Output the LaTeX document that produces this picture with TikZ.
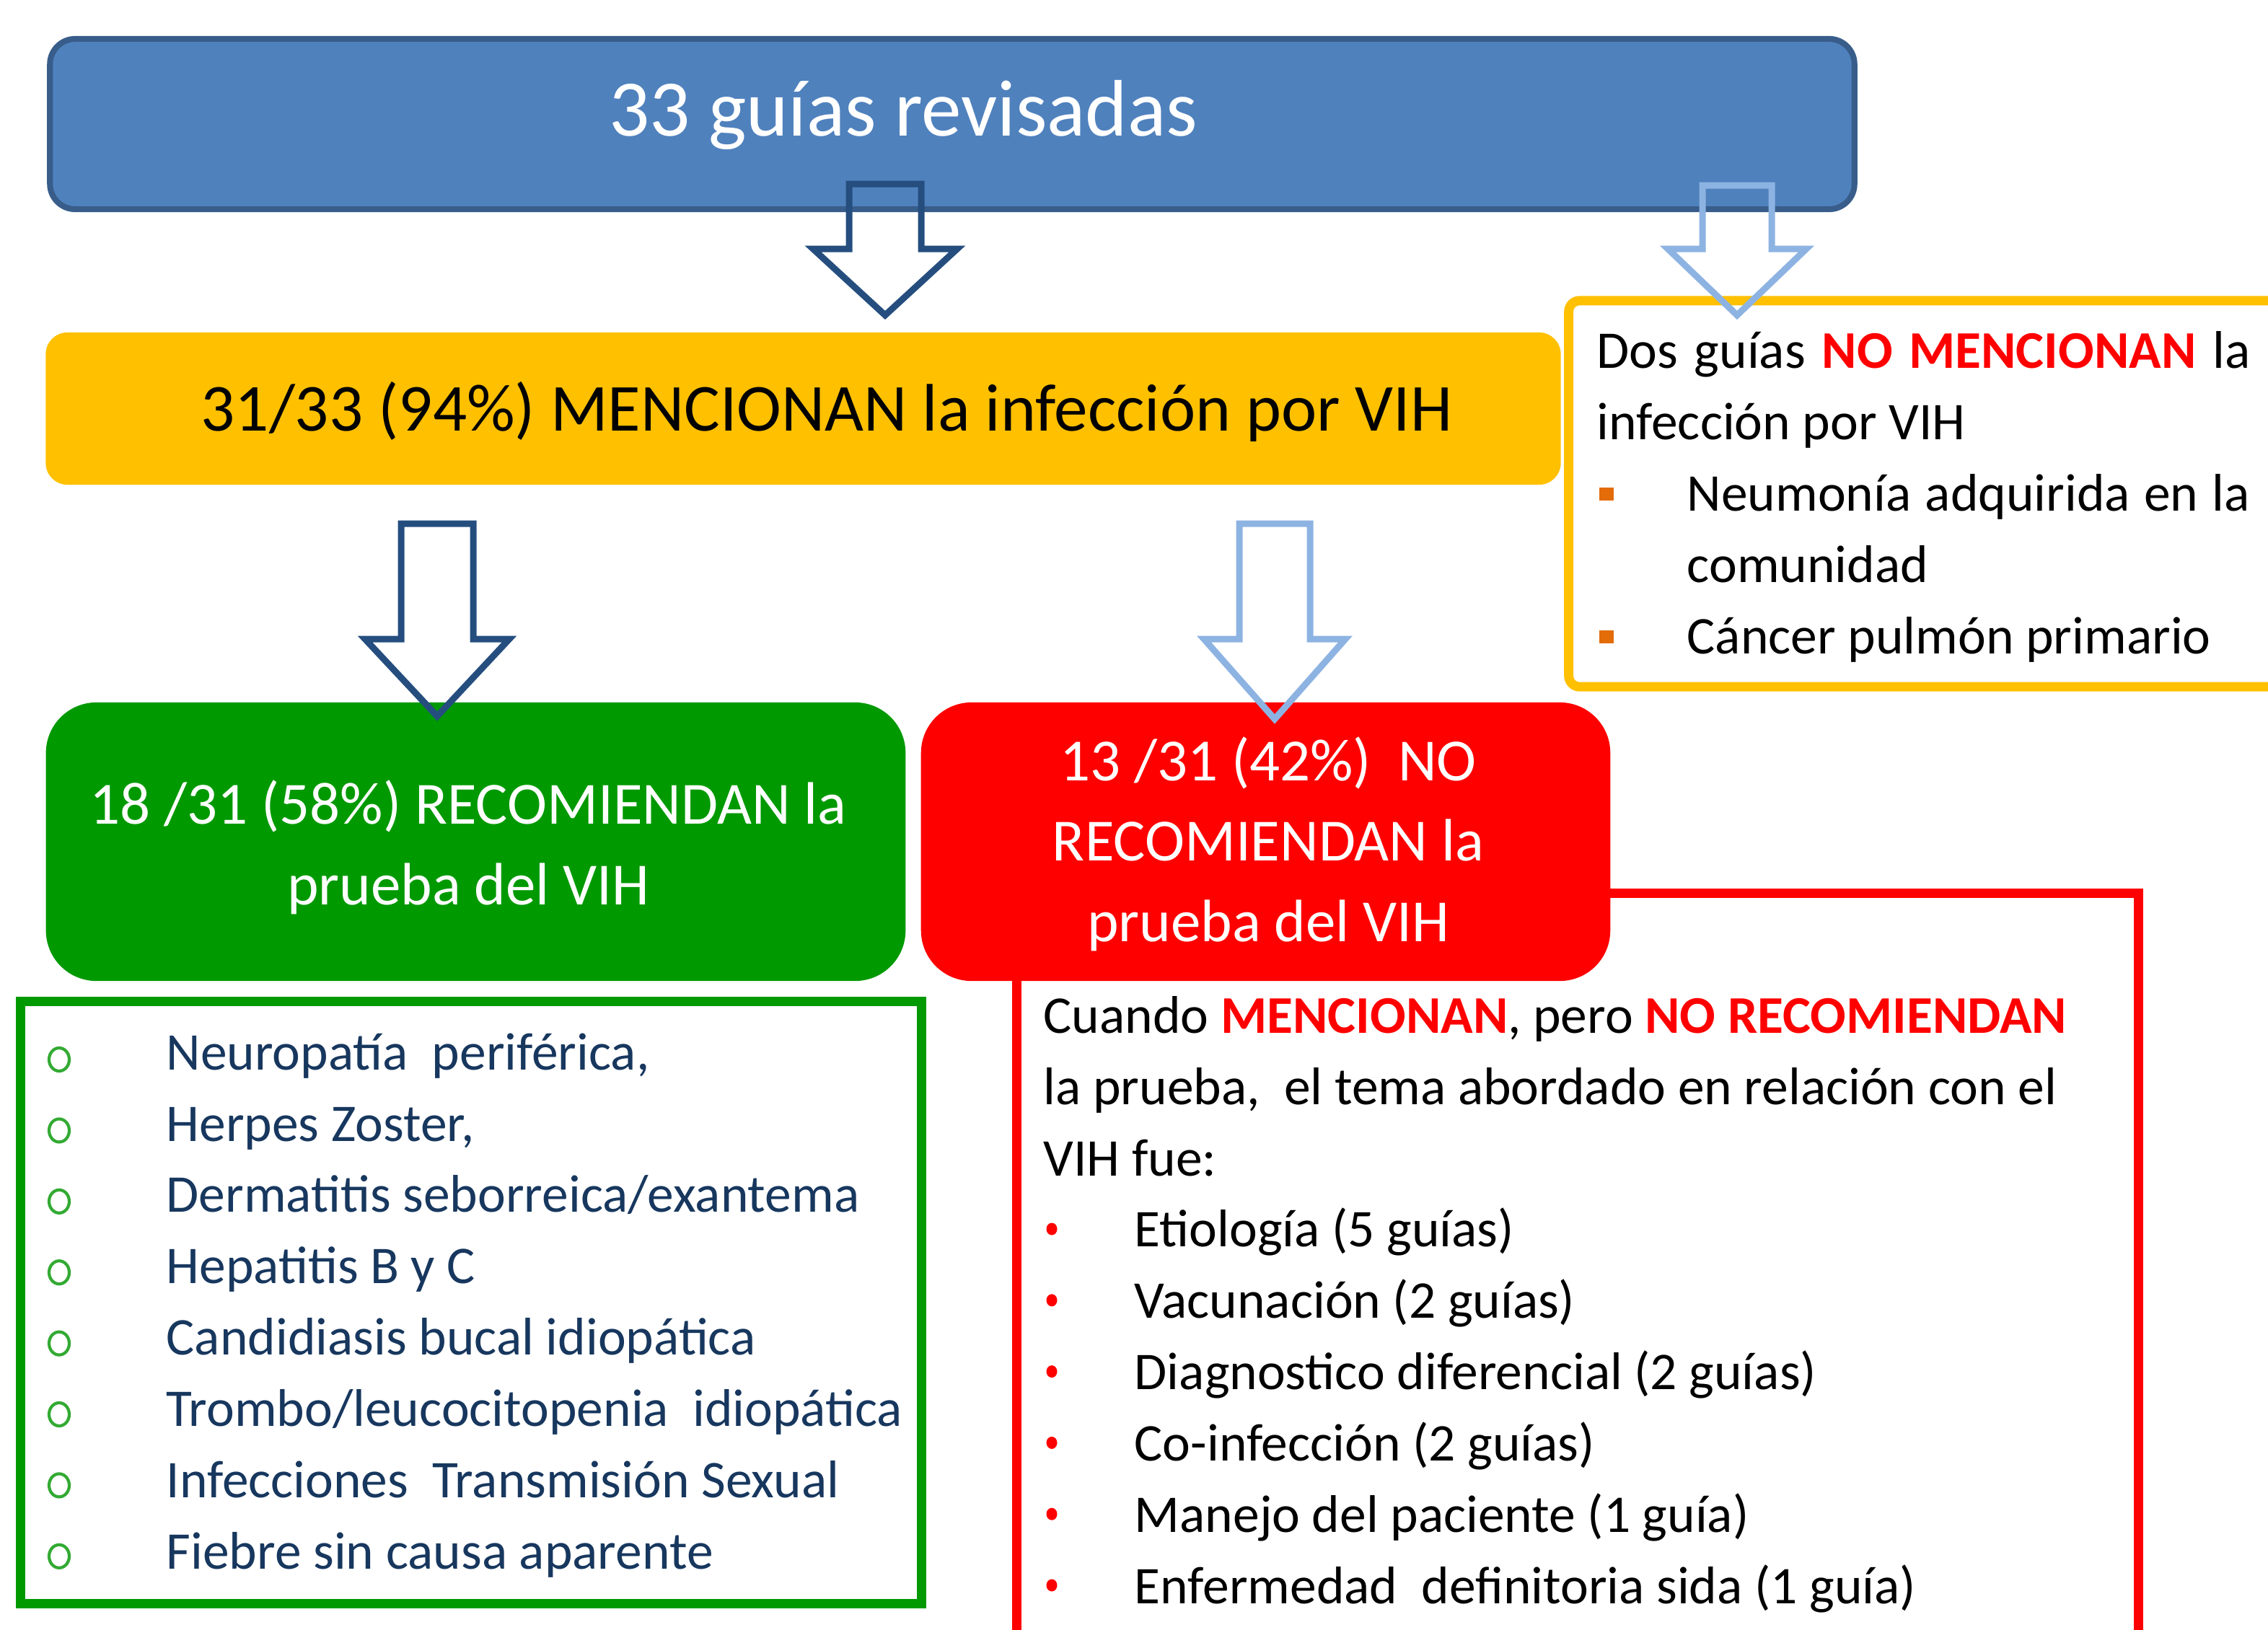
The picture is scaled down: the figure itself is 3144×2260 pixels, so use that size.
\documentclass[tikz,border=0pt]{standalone}
\usepackage{fontspec}
\setmainfont{Carlito}
\definecolor{boxblue}{HTML}{4F81BD}
\definecolor{boxblueedge}{HTML}{385D8A}
\definecolor{arrdark}{HTML}{254E7F}
\definecolor{arrlight}{HTML}{8DB3E2}
\definecolor{ambar}{HTML}{FFC000}
\definecolor{verde}{HTML}{009900}
\definecolor{verdeb}{HTML}{33AA33}
\definecolor{rojo}{HTML}{FF0000}
\definecolor{listtext}{HTML}{17375E}
\definecolor{naranja}{HTML}{E36C09}
\newcommand{\fTitle}{\fontsize{31.6pt}{38pt}\selectfont}
\newcommand{\fOrange}{\fontsize{26.5pt}{32pt}\selectfont}
\newcommand{\fMid}{\fontsize{23.6pt}{31.7pt}\selectfont}
\newcommand{\fSmall}{\fontsize{20.9pt}{28.1pt}\selectfont}
\newcommand{\blockarrow}[7]{%
  \coordinate (#1-tail) at (#2,#3);
  \coordinate (#1-tip) at (#2,#5);
  \draw[arrowline,draw=#6] ({#2-#7},#3) -- ({#2+#7},#3) -- ({#2+#7},#4) -- ({#2+2*#7},#4) -- (#1-tip) -- ({#2-2*#7},#4) -- ({#2-#7},#4) -- cycle;}
\tikzset{
  arrowline/.style={line width=2.56pt, line join=miter},
  framebox/.style={line width=3.7pt, inner sep=0pt, outer sep=0pt},
  solidbox/.style={inner sep=0pt, outer sep=0pt},
}
\begin{document}
\begin{tikzpicture}[x=0.01cm,y=-0.01cm]
\useasboundingbox (0,0) rectangle (3144,2260);
\clip (0,0) rectangle (3144,2260);

% red outline frame (partly hidden by red box)
\node[framebox, draw=rojo, minimum width=15.54cm, minimum height=10.91cm] (redframe) at (2187,1784.5) {};

% top blue box
\node[solidbox, draw=boxblueedge, fill=boxblue, line width=2.3pt, rounded corners=0.35cm,
      minimum width=25.0cm, minimum height=2.36cm] (guias) at (1320,172) {};
\node[anchor=base, text=white, font=\fTitle] (guiastxt) at (1252,188) {33 guías revisadas};

% yellow filled box
\node[solidbox, fill=ambar, rounded corners=0.3cm, minimum width=20.99cm, minimum height=2.11cm] (mencionan) at (1113.5,566.5) {};
\node[anchor=base, font=\fOrange] (menciontxt) at (1146,597) {31/33 (94\%) MENCIONAN la infección por VIH};

% yellow outline box
\node[framebox, draw=ambar, rounded corners=0.15cm, minimum width=9.95cm, minimum height=5.35cm] (nomenc) at (2672.5,684.5) {};
\node[anchor=base west, align=left, font=\fSmall, inner sep=0pt] (nomenctxt) at (2213,906)
 {\makebox[9.05cm][s]{Dos guías \textcolor{rojo}{\textbf{NO MENCIONAN}} la}\\
  infección por VIH\\
  \hspace*{1.25cm}\makebox[7.8cm][s]{Neumonía adquirida en la}\\
  \hspace*{1.25cm}comunidad\\
  \hspace*{1.25cm}Cáncer pulmón primario};
\fill[naranja] (2217,676) rectangle (2237,694);
\fill[naranja] (2217,874) rectangle (2237,892);

% green filled box
\node[solidbox, fill=verde, rounded corners=0.7cm, minimum width=11.91cm, minimum height=3.86cm] (recom) at (659.5,1167) {};
\node[anchor=base, align=center, text=white, font=\fMid, inner sep=0pt] (recomtxt) at (649,1254)
 {18 /31 (58\%) RECOMIENDAN la\\prueba del VIH};

% red filled box
\node[solidbox, fill=rojo, rounded corners=0.7cm, minimum width=9.55cm, minimum height=3.86cm] (norecom) at (1754.5,1167) {};
\node[anchor=base, align=center, text=white, font=\fMid, inner sep=0pt] (norecomtxt) at (1758,1305)
 {13 /31 (42\%)\ \ NO\\RECOMIENDAN la\\prueba del VIH};

% green outline box
\node[framebox, draw=verde, minimum width=12.48cm, minimum height=8.34cm] (sintomas) at (653,1806) {};
\node[anchor=base west, align=left, text=listtext, font=\fSmall, inner sep=0pt] (sintomastxt) at (230,2175)
 {Neuropatía\ \ periférica,\\
  Herpes Zoster,\\
  Dermatitis seborreica/exantema\\
  Hepatitis B y C\\
  Candidiasis bucal idiopática\\
  Trombo/leucocitopenia\ \ idiopática\\
  Infecciones\ \ Transmisión Sexual\\
  Fiebre sin causa aparente};
\foreach \k in {0,...,7}
  \draw[verdeb, line width=1.2pt] (82,{1469+98.4*\k}) ellipse [x radius=0.14cm, y radius=0.16cm];

% red list text
\node[anchor=base west, align=left, font=\fSmall, inner sep=0pt] (temastxt) at (1446,2223)
 {Cuando \textcolor{rojo}{\textbf{MENCIONAN}}, pero \textcolor{rojo}{\textbf{NO RECOMIENDAN}}\\
  la prueba,\ \ el tema abordado en relación con el\\
  VIH fue:\\
  \hspace*{1.26cm}Etiología (5 guías)\\
  \hspace*{1.26cm}Vacunación (2 guías)\\
  \hspace*{1.26cm}Diagnostico diferencial (2 guías)\\
  \hspace*{1.26cm}Co-infección (2 guías)\\
  \hspace*{1.26cm}Manejo del paciente (1 guía)\\
  \hspace*{1.26cm}Enfermedad\ \ definitoria sida (1 guía)};
\foreach \k in {0,...,5}
  \fill[rojo] (1458,{1704+98.8*\k}) ellipse [x radius=0.075cm, y radius=0.085cm];

% block arrows
\blockarrow{a1}{1227}{255}{345}{437}{arrdark}{50}
\blockarrow{a2}{2408}{257}{345}{437}{arrlight}{48}
\blockarrow{a3}{606}{726}{886}{993}{arrdark}{50}
\blockarrow{a4}{1767}{726}{886}{997}{arrlight}{49}
\end{tikzpicture}
\end{document}
